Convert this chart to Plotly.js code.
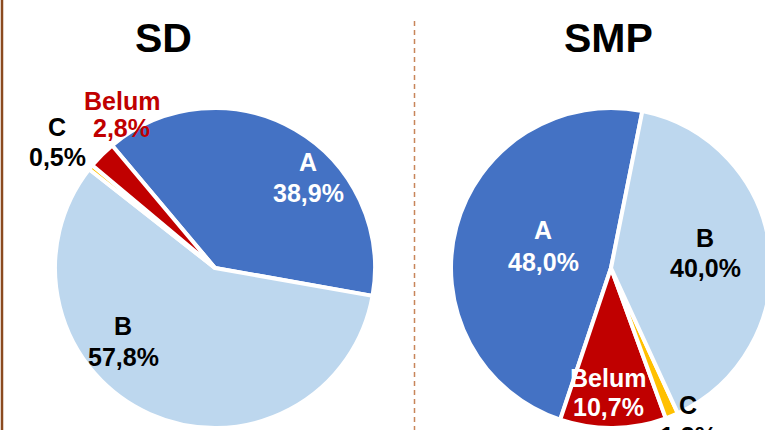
<!DOCTYPE html>
<html>
<head>
<meta charset="utf-8">
<script src="https://cdn.plot.ly/plotly-3.0.1.min.js"></script>
<style>
html,body{margin:0;padding:0;background:#fff;overflow:hidden;width:765px;height:430px;}
#chart{width:790px;height:440px;}
</style>
</head>
<body>
<div id="chart"></div>
<script>
// Data
var sdLabels = ['A', 'B', 'C', 'Belum'];
var sdValues = [38.9, 57.8, 0.5, 2.8];
var smpLabels = ['A', 'Belum', 'C', 'B'];
var smpValues = [48.0, 10.7, 1.3, 40.0];
var titles = ['SD', 'SMP'];

// Styles
var colorMap = {A: '#4472C4', B: '#BDD7EE', C: '#FFC000', Belum: '#C00000'};
var textColorSD = {A: '#ffffff', B: '#000000', C: '#000000', Belum: '#C00000'};
var textColorSMP = {A: '#ffffff', B: '#000000', C: '#000000', Belum: '#ffffff'};
// label placement (pixel centers of the two text lines: [x, yLine1, yLine2])
var labelPosSD = {A: [308, 162, 193], B: [123, 326, 357], C: [57, 127, 157], Belum: [122, 101, 128]};
var labelPosSMP = {A: [543, 230, 262], B: [705, 238, 268], C: [688, 405, 436], Belum: [608, 378, 407]};

var W = 790, H = 440;
var FONT = 'Liberation Sans, Arial, sans-serif';
function dom(cx, cy, r) {
  return {x: [(cx - r) / W, (cx + r) / W], y: [(H - cy - r) / H, (H - cy + r) / H]};
}
function fmt(v) { return v.toFixed(1).replace('.', ',') + '%'; }

var sd = {
  type: 'pie', labels: sdLabels, values: sdValues, sort: false,
  direction: 'clockwise', rotation: -40,
  marker: {colors: sdLabels.map(function(l){return colorMap[l];}), line: {color: '#ffffff', width: 4}},
  textinfo: 'none', hoverinfo: 'label+percent',
  domain: dom(215, 268, 160)
};
var smp = {
  type: 'pie', labels: smpLabels, values: smpValues, sort: false,
  direction: 'counterclockwise', rotation: -161.5,
  marker: {colors: smpLabels.map(function(l){return colorMap[l];}), line: {color: '#ffffff', width: 4}},
  textinfo: 'none', hoverinfo: 'label+percent',
  domain: dom(611, 268, 160)
};

var annotations = [
  {text: '<b>' + titles[0] + '</b>', x: 163 / W, y: 1 - 38 / H, xref: 'paper', yref: 'paper', showarrow: false, font: {family: FONT, size: 41, color: '#000'}, xanchor: 'center', yanchor: 'middle'},
  {text: '<b>' + titles[1] + '</b>', x: 608 / W, y: 1 - 38 / H, xref: 'paper', yref: 'paper', showarrow: false, font: {family: FONT, size: 41, color: '#000'}, xanchor: 'center', yanchor: 'middle'}
];
function addLabels(labels, values, pos, colors) {
  labels.forEach(function(l, i) {
    var p = pos[l];
    [l, fmt(values[i])].forEach(function(t, k) {
      annotations.push({text: '<b>' + t + '</b>', x: p[0] / W, y: 1 - p[k + 1] / H, xref: 'paper', yref: 'paper',
        showarrow: false, xanchor: 'center', yanchor: 'middle', font: {family: FONT, size: 25, color: colors[l]}});
    });
  });
}
addLabels(sdLabels, sdValues, labelPosSD, textColorSD);
addLabels(smpLabels, smpValues, labelPosSMP, textColorSMP);

var layout = {
  width: W, height: H,
  margin: {l: 0, r: 0, t: 0, b: 0},
  paper_bgcolor: '#ffffff',
  showlegend: false,
  font: {family: FONT},
  annotations: annotations,
  shapes: [
    {type: 'line', xref: 'paper', yref: 'paper', x0: 2 / W, x1: 2 / W, y0: 0, y1: 1, line: {color: '#8B4A1F', width: 2.5}},
    {type: 'line', xref: 'paper', yref: 'paper', x0: 414.5 / W, x1: 414.5 / W, y0: 0, y1: 1 - 20 / H, line: {color: '#C8855A', width: 1.5, dash: '5px,4px'}}
  ]
};

Plotly.newPlot('chart', [sd, smp], layout, {staticPlot: true});
</script>
</body>
</html>
